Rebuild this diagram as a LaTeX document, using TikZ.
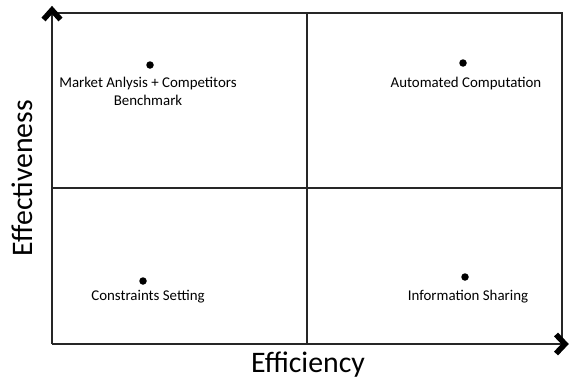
\documentclass[tikz,border=0pt]{standalone}
\usepackage{fontspec}
\setmainfont{Carlito}
\begin{document}
\begin{tikzpicture}[x=1pt,y=-1pt,
  frame/.style={draw=black!85,line width=1.4pt},
  chevron/.style={draw=black,line width=5.5pt,line join=miter,line cap=butt},
  dot/.style={circle,fill=black,inner sep=0pt,minimum size=7.5pt},
  lbl/.style={font=\fontsize{14.9}{18.5}\selectfont,align=center,inner sep=0pt},
  axislbl/.style={font=\fontsize{29.8}{32}\selectfont,inner sep=0pt}]
\useasboundingbox (0,0) rectangle (569,380);
% corners of the grid
\coordinate (bl) at (52,344);
\coordinate (tl) at (52,13);
\coordinate (tr) at (562,13);
\coordinate (br) at (562,344);
\coordinate (ytip) at (52,10);
\coordinate (xtip) at (564,344);
% frame and quadrant dividers
\draw[frame] (bl) -- (ytip);
\draw[frame] (bl) -- (xtip);
\draw[frame] (tl) -- (tr) -- (br);
\draw[frame] (307,13) -- (307,344);
\draw[frame] (52,188) -- (562,188);
% axis arrow heads
\draw[chevron] (43.5,19.5) -- (52,10) -- (60.5,19.5);
\draw[chevron] (556,334.5) -- (565,344) -- (556,353.5);
% quadrant items
\node[dot] (d1) at (150,65) {};
\node[lbl,anchor=north] (t1) at (148,76.5) {Market Anlysis + Competitors\\Benchmark};
\node[dot] (d2) at (463,63) {};
\node[lbl,anchor=north] (t2) at (466,76.5) {Automated Computation};
\node[dot] (d3) at (143,281) {};
\node[lbl,anchor=north] (t3) at (148,290) {Constraints Setting};
\node[dot] (d4) at (465,277) {};
\node[lbl,anchor=north] (t4) at (468,290) {Information Sharing};
% axis titles
\node[axislbl] (xl) at (308,365) {Efficiency};
\node[axislbl,rotate=90] (yl) at (22,178) {Effectiveness};
\end{tikzpicture}
\end{document}
